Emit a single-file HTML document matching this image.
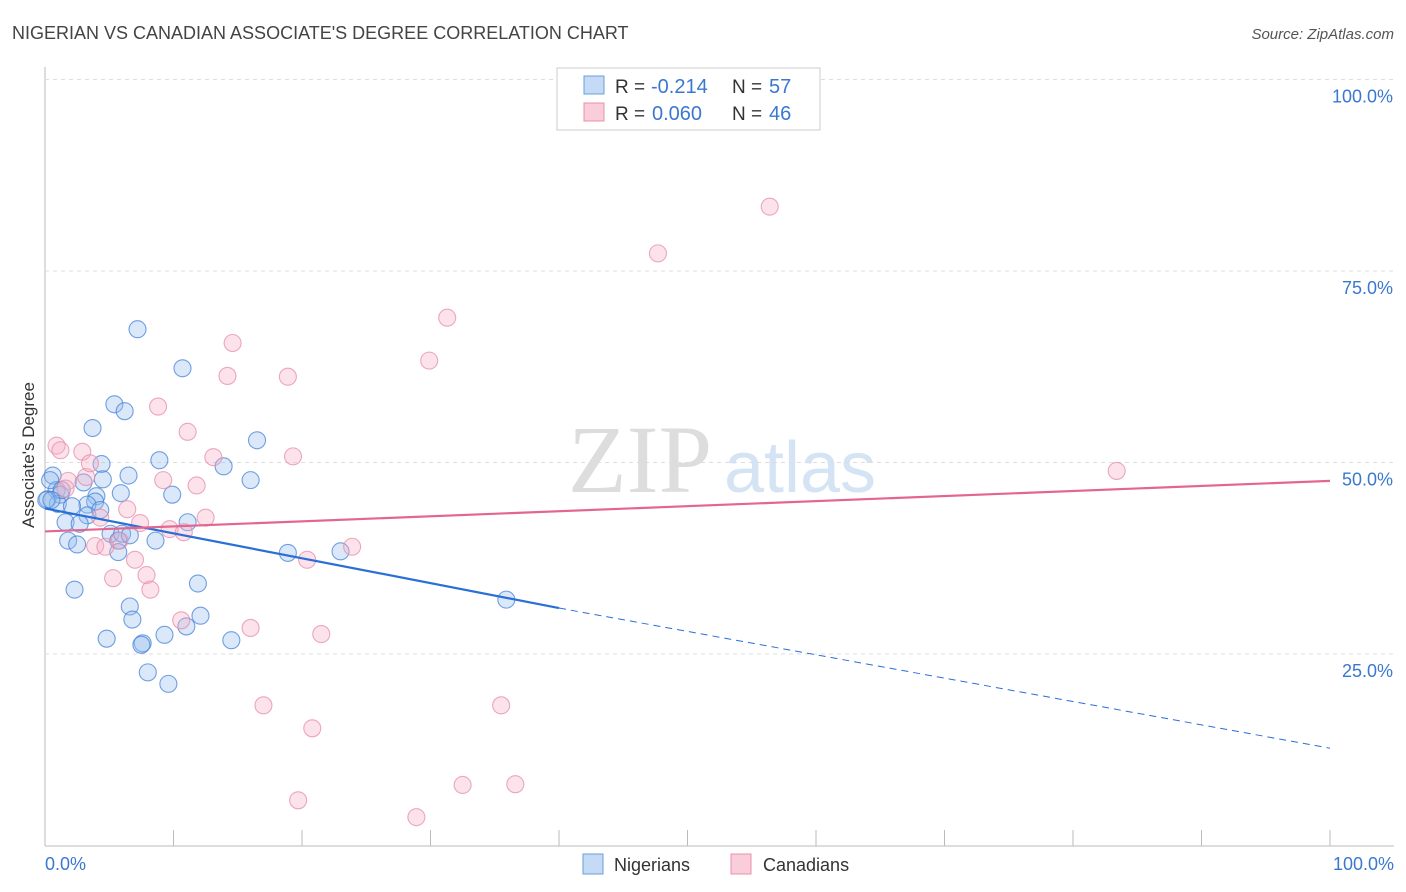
<!DOCTYPE html>
<html><head><meta charset="utf-8"><style>
body{margin:0;background:#fff;font-family:"Liberation Sans",sans-serif}
svg{display:block}
</style></head><body>
<svg id="c" width="1406" height="892">
<text x="12" y="39" font-size="18" fill="#444">NIGERIAN VS CANADIAN ASSOCIATE'S DEGREE CORRELATION CHART</text>
<text x="1394" y="39" font-size="15" fill="#555" font-style="italic" text-anchor="end">Source: ZipAtlas.com</text>
<text x="640" y="492" font-size="96" fill="#ddd" font-family="Liberation Serif" text-anchor="middle">ZIP</text>
<text x="800" y="492" font-size="72" fill="#d5e4f4" text-anchor="middle">atlas</text>
<g id="grid"></g><g id="pts"></g><g id="lines"></g>
<text transform="translate(34,455) rotate(-90)" font-size="17" fill="#333" text-anchor="middle">Associate's Degree</text>
<text x="45" y="870" font-size="18" fill="#3a78d0">0.0%</text>
<text x="1394" y="870" font-size="18" fill="#3a78d0" text-anchor="end">100.0%</text>
<g>
<rect x="557" y="68" width="263" height="62" fill="#fff" stroke="#ccc"/>
<rect x="584" y="76" width="20" height="18" fill="#c5daf5" stroke="#6a9ee0"/>
<rect x="584" y="103" width="20" height="18" fill="#f9cdd9" stroke="#e890a8"/>
<text x="615" y="93" font-size="19" fill="#333">R =</text>
<text x="651" y="93" font-size="20" fill="#3a78d0">-0.214</text>
<text x="732" y="93" font-size="19" fill="#333">N =</text>
<text x="769" y="93" font-size="20" fill="#3a78d0">57</text>
<text x="615" y="120" font-size="19" fill="#333">R =</text>
<text x="652" y="120" font-size="20" fill="#3a78d0">0.060</text>
<text x="732" y="120" font-size="19" fill="#333">N =</text>
<text x="769" y="120" font-size="20" fill="#3a78d0">46</text>
</g>
<g>
<rect x="583" y="854" width="20" height="20" fill="#c5daf5" stroke="#6a9ee0"/>
<text x="614" y="871" font-size="18" fill="#333">Nigerians</text>
<rect x="731" y="854" width="20" height="20" fill="#f9cdd9" stroke="#e890a8"/>
<text x="763" y="871" font-size="18" fill="#333">Canadians</text>
</g>
</svg>
<script>
const yTicks=[25,50,75,100];
const blueX=[7.2,10.7,5.4,6.2,3.7,16.5,8.9,4.4,13.9,6.5,16.0,0.6,4.5,3.0,5.9,9.9,0.9,1.2,4.0,3.9,0.2,1.0,3.3,2.1,3.3,1.6,2.7,11.1,1.8,2.5,5.1,5.7,6.0,5.7,18.9,23.0,2.3,11.9,35.9,6.6,6.8,12.1,11.0,4.8,9.3,7.6,7.5,14.5,8.0,9.6,0.4,1.3,0.1,0.5,4.3,6.6,8.6];
const blueY=[67.4,62.3,57.6,56.7,54.5,52.9,50.3,49.8,49.5,48.3,47.7,48.3,47.8,47.4,46.0,45.8,46.4,45.8,45.6,44.9,45.2,44.6,44.5,44.3,43.1,42.2,42.0,42.2,39.8,39.3,40.7,39.8,40.7,38.3,38.2,38.4,33.4,34.2,32.1,31.2,29.5,30.0,28.6,27.0,27.5,26.4,26.2,26.8,22.6,21.1,47.7,46.4,45.1,45.1,43.8,40.5,39.8];
const pinkX=[56.4,47.7,31.3,14.6,29.9,14.2,18.9,8.8,11.1,0.9,1.2,2.9,13.1,19.3,83.4,9.2,11.8,3.2,1.8,1.6,12.5,6.4,4.3,7.4,9.7,10.8,5.8,3.9,4.7,23.9,20.4,7.0,7.9,5.3,8.2,10.6,16.0,21.5,17.0,35.5,20.8,32.5,36.6,19.7,28.9,3.5];
const pinkY=[83.4,77.3,68.9,65.6,63.3,61.3,61.2,57.3,54.0,52.2,51.6,51.4,50.7,50.8,48.9,47.7,47.0,48.1,47.6,46.6,42.8,43.9,42.8,42.1,41.3,40.9,39.8,39.1,39.0,39.0,37.3,37.3,35.3,34.9,33.4,29.4,28.4,27.6,18.3,18.3,15.3,7.9,8.0,5.9,3.7,49.9];
const blueTrend=[44.0,31.0,12.7];
const pinkTrend=[41.0,47.6];
const X=v=>45+v*12.85, Y=v=>845.5-v*7.66;
const NS='http://www.w3.org/2000/svg';
function mk(t,a,p){const e=document.createElementNS(NS,t);for(const k in a)e.setAttribute(k,a[k]);document.getElementById(p).appendChild(e);return e;}
let e=mk('line',{x1:45,y1:67,x2:45,y2:846,stroke:'#bbb'},'grid');


e=mk('line',{x1:45,y1:846,x2:1394,y2:846,stroke:'#bbb'},'grid');


for(let i=1;i<=10;i++){e=mk('line',{x1:45+i*128.5,y1:830,x2:45+i*128.5,y2:846,stroke:'#bbb'},'grid');

}
yTicks.forEach(t=>{e=mk('line',{x1:45,y1:Y(t),x2:1394,y2:Y(t),stroke:'#ddd','stroke-dasharray':'4,4'},'grid');


e=mk('text',{x:1393,y:Y(t)+23,'font-size':18,fill:'#3a78d0','text-anchor':'end'},'grid');e.textContent=t.toFixed(1)+'%';

});
blueX.forEach((x,i)=>{e=mk('circle',{cx:X(x),cy:Y(blueY[i]),r:8.5,fill:'rgba(150,188,238,0.35)',stroke:'rgba(70,130,215,0.75)','stroke-width':1.1},'pts');

});
pinkX.forEach((x,i)=>{e=mk('circle',{cx:X(x),cy:Y(pinkY[i]),r:8.5,fill:'rgba(245,175,198,0.35)',stroke:'rgba(230,140,170,0.75)','stroke-width':1.1},'pts');

});
e=mk('line',{x1:X(0),y1:Y(blueTrend[0]),x2:X(40),y2:Y(blueTrend[1]),stroke:'#2a6fd6','stroke-width':2.2},'lines');


e=mk('line',{x1:X(40),y1:Y(blueTrend[1]),x2:X(100),y2:Y(blueTrend[2]),stroke:'#2a6fd6','stroke-width':1,'stroke-dasharray':'7,5'},'lines');


e=mk('line',{x1:X(0),y1:Y(pinkTrend[0]),x2:X(100),y2:Y(pinkTrend[1]),stroke:'#e36690','stroke-width':2.2},'lines');


</script>
</body></html>
